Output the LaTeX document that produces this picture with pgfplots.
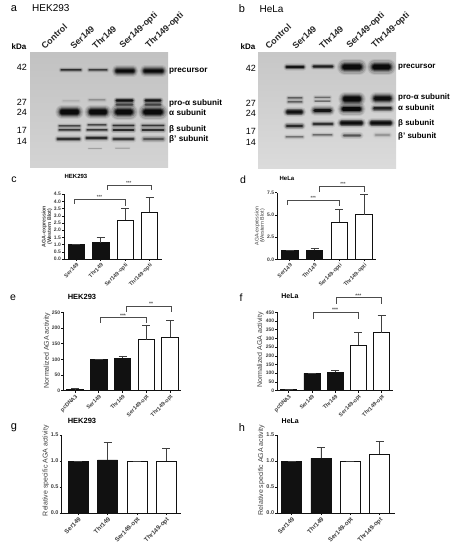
\documentclass[border=0pt]{standalone}
\usepackage{fontspec}
\setmainfont{Liberation Sans}
\usepackage{pgfplots}
\pgfplotsset{compat=1.18}
\newcommand\fs[1]{\fontsize{#1}{#1}\selectfont}
\definecolor{barc}{HTML}{111111}
\pgfplotsset{
  panel/.style={
    scale only axis, clip=false, axis lines=left,
    axis line style={-, line width=0.8pt, color=barc},
    tick align=outside, tick style={line width=0.6pt, color=barc},
    major tick length=2pt, xtick pos=bottom, ytick pos=left,
    ymin=0, minor tick num=0,
    /pgf/number format/assume math mode=true,
    tick label style={font=\bfseries\fs{5}, color=black!75, inner sep=1pt},
    xticklabel style={rotate=45, anchor=north east, font=\bfseries\fs{5.5}},
    ylabel style={font=\fs{7}, color=black!75, anchor=center, align=center},
    title style={font=\bfseries\fs{7}, anchor=center, at={(axis description cs:0,1)}},
    y tick label style={/pgf/number format/fixed},
  },
  bigticks/.style={xticklabel style={font=\bfseries\fs{6.2}}, yticklabel style={font=\bfseries\fs{5.5}}},
  ylab/.style 2 args={ylabel style={at={(axis description cs:0,0.5)}, xshift=#2pt, yshift=-#1pt}},
  tpos/.style 2 args={title style={xshift=#1pt, yshift=#2pt}},
  prec1/.style={y tick label style={/pgf/number format/fixed zerofill,/pgf/number format/precision=1}},
  errs/.style={
    error bars/y dir=plus, error bars/y explicit,
    error bars/error bar style={line width=0.7pt,color=black!75},
    error bars/error mark options={rotate=90, mark size=4pt, line width=0.7pt, color=black!75}},
  blackbar/.style={ybar, bar shift=0pt, fill=barc, draw=barc, line width=0.8pt, errs},
  whitebar/.style={ybar, bar shift=0pt, fill=white, draw=barc, line width=0.8pt, errs},
  brk/.style={line width=0.5pt, color=black!70, forget plot},
}
% a band on a gel: x1, x2, y (in image pixels from top), thickness, strength
\newcommand\onelayer[2]{\pgfmathsetmacro\opX{#2*\myK}\draw[line cap=round,black,line width=#1 pt,opacity=\opX] (\myA pt,\myY pt)--(\myB pt,\myY pt);}
\newcommand\band[5]{%
  \pgfmathsetmacro\myY{550-#3}\pgfmathsetmacro\myK{#5}%
  \pgfmathsetmacro\myA{#1+0.6*#4}\pgfmathsetmacro\myB{#2-0.6*#4}%
  \pgfmathsetmacro\lwA{1.7*#4+2}\pgfmathsetmacro\lwB{1.5*#4+1.3}\pgfmathsetmacro\lwC{1.25*#4+0.7}%
  \pgfmathsetmacro\lwD{1.0*#4+0.2}\pgfmathsetmacro\lwE{0.75*#4}\pgfmathsetmacro\lwF{0.5*#4}%
  \onelayer{\lwA}{0.08}\onelayer{\lwB}{0.13}\onelayer{\lwC}{0.2}\onelayer{\lwD}{0.35}\onelayer{\lwE}{0.55}\onelayer{\lwF}{0.7}%
}
\newcommand\txt[4][]{\pgfmathsetmacro\myY{550-#3}\node[inner sep=0pt,#1] at (#2pt,\myY pt) {#4};}
\begin{document}
\begin{tikzpicture}[x=1pt,y=1pt]
\useasboundingbox (0,0) rectangle (456pt,550pt);
\fill[white] (0,0) rectangle (456pt,550pt);

% ---------- blot a
\shade[top color=black!24, bottom color=black!17] (30pt,497pt) rectangle (168pt,382pt);
\band{60}{82}{70}{2}{0.6}\band{88}{108}{70}{2}{0.5}
\band{114}{136}{71}{5.5}{1}\band{142}{165}{71}{5.5}{1}
\band{88}{106}{100}{2}{0.15}\band{62}{80}{101}{2}{0.06}
\band{115}{134}{100.5}{3}{0.9}\band{115}{134}{104.5}{3}{0.45}
\band{144}{162}{100.5}{3}{0.85}\band{144}{162}{104.5}{3}{0.45}
\band{58}{81}{112}{7}{1}\band{87}{109}{112}{7}{1}\band{113}{135}{112}{8}{1}\band{141}{165}{112}{8}{1}
\band{58}{81}{126}{2}{0.45}\band{58}{81}{130}{2}{0.55}
\band{87}{107}{125}{2}{0.45}\band{86}{108}{130}{2}{0.55}
\band{112}{135}{125.5}{2.5}{0.6}\band{112}{135}{130}{2.5}{0.65}
\band{141}{165}{125.5}{2.5}{0.55}\band{141}{165}{130}{2.5}{0.6}
\band{56}{81}{139}{3}{0.6}\band{85}{108}{138}{3}{0.65}\band{112}{135}{139}{3}{0.55}\band{142}{165}{139}{3.5}{0.4}
\band{88}{102}{148.5}{1}{0.12}\band{115}{130}{148}{1}{0.1}

% ---------- blot b
\shade[top color=black!22, bottom color=black!14] (258pt,497pt) rectangle (396pt,381pt);
\band{285}{305}{67}{3}{0.85}\band{312}{334}{66.5}{3}{0.75}
\band{340}{364}{67}{8}{1}\band{370}{393}{67}{8}{1}
\band{287}{303}{98}{2}{0.35}\band{287}{303}{102}{2}{0.35}\band{314}{331}{97.5}{1.8}{0.3}\band{314}{331}{101}{1.8}{0.28}
\band{341}{363}{99}{7}{1}\band{372}{393}{98.5}{6}{0.95}
\band{285}{304}{112}{5}{0.9}\band{312}{333}{110.5}{5}{0.85}\band{340}{363}{109}{6.5}{1}\band{372}{393}{108.5}{4}{0.7}
\band{285}{304}{126}{3.5}{0.65}\band{312}{334}{124}{3}{0.6}\band{339}{364}{123}{5}{0.95}\band{369}{393}{123}{5}{0.95}
\band{285}{304}{137}{2}{0.28}\band{312}{333}{135}{2}{0.3}\band{342}{362}{135.5}{3.5}{0.4}\band{374}{391}{135}{3}{0.15}

% ---------- blot text
\txt{14}{9}{\fs{11}a}\txt[anchor=west]{32}{8.5}{\fs{10}HEK293}
\txt{242}{9}{\fs{11}b}\txt{271.5}{9}{\fs{10}HeLa}
\txt{19}{46.7}{\bfseries\fs{8}kDa}\txt{248}{47}{\bfseries\fs{8}kDa}
\foreach \a/\b in {67.7/42,102/27,112/24,130/17,141/14}{\txt{22}{\a}{\fs{9}\b}}
\foreach \a/\b in {68/42,103/27,113/24,131/17,142/14}{\txt{251}{\a}{\fs{9}\b}}
\foreach \a/\b in {45/Control,74/Ser149,96/Thr149,124/Ser149-opti,150/Thr149-opti}{%
  \node[rotate=43,anchor=south west,inner sep=0pt,font=\bfseries\fs{8.8},color=black!85] at (\a pt,500pt) {\b};}
\foreach \a/\b in {269/Control,296/Ser149,323/Thr149,351/Ser149-opti,376/Thr149-opti}{%
  \node[rotate=43,anchor=south west,inner sep=0pt,font=\bfseries\fs{8.8},color=black!85] at (\a pt,500pt) {\b};}
\foreach \a/\b in {71/precursor,103/pro-α subunit,113/α subunit,129/β subunit,139/β' subunit}{%
  \txt[anchor=west]{169}{\a}{\bfseries\fs{8.2}\b}}
\foreach \a/\b in {67/precursor,97/pro-α subunit,108/α subunit,123/β subunit,136/β' subunit}{%
  \txt[anchor=west]{398}{\a}{\bfseries\fs{8}\b}}

% panel letters
\txt{14}{180}{\fs{10.5}c}\txt{243}{180}{\fs{10.5}d}
\txt{13}{298}{\fs{10.5}e}\txt{241}{298}{\fs{10.5}f}
\txt{14}{428}{\fs{11}g}\txt{242}{428}{\fs{11}h}

% ---------- c
\begin{axis}[panel, at={(64pt,291pt)}, anchor=south west, width=98pt, height=64.7pt,
  xmin=-0.504, xmax=3.51, ymax=4.5, ytick={0,0.5,...,4.5}, prec1,
  xtick={0,1,2,3}, xticklabels={Ser149,Thr149,Ser149-opti,Thr149-opti},
  ylabel={AGA-expression\\(Western Blot)}, ylab={-17}{0},
  ylabel style={font=\bfseries\fs{5.3}},
  title={HEK293}, tpos={12}{11.6}, title style={font=\bfseries\fs{6}}]
\addplot[blackbar, bar width=16.4pt] coordinates {(0,1.0) +- (0,0) (1,1.13) +- (0,0.37)};
\addplot[whitebar, bar width=16.4pt] coordinates {(2,2.7) +- (0,0.8) (3,3.25) +- (0,1.05)};
\addplot[brk] coordinates {(-0.09,3.83)(-0.09,4.15)(2.0,4.15)(2.0,3.7)};
\addplot[brk] coordinates {(1.25,4.8)(1.25,5.13)(3.05,5.13)(3.05,4.8)};
\node[font=\bfseries\fs{4.5},color=black!70] at (axis cs:0.95,4.33) {***};
\node[font=\bfseries\fs{4.5},color=black!70] at (axis cs:2.15,5.31) {***};
\end{axis}

% ---------- d
\begin{axis}[panel, at={(277.3pt,290.7pt)}, anchor=south west, width=99pt, height=66.6pt,
  xmin=-0.5, xmax=3.49, ymax=7.5, ytick={0,2.5,5,7.5}, prec1,
  xtick={0,1,2,3}, xticklabels={Ser149,Thr149,Ser149-opti,Thr149-opti},
  ylabel={AGA-expression\\(Western Blot)}, ylab={-17.5}{0},
  ylabel style={font=\fs{5.3}},
  title={HeLa}, tpos={9.7}{8.7}, title style={font=\bfseries\fs{6}}]
\addplot[blackbar, bar width=16.6pt] coordinates {(0,1.0) +- (0,0) (1,1.0) +- (0,0.25)};
\addplot[whitebar, bar width=16.6pt] coordinates {(2,4.2) +- (0,1.45) (3,5.0) +- (0,2.3)};
\addplot[brk] coordinates {(-0.1,6.11)(-0.1,6.6)(1.99,6.6)(1.99,6.0)};
\addplot[brk] coordinates {(1.21,7.58)(1.21,8.17)(3.02,8.17)(3.02,7.58)};
\node[font=\bfseries\fs{4.5},color=black!70] at (axis cs:0.95,6.9) {***};
\node[font=\bfseries\fs{4.5},color=black!70] at (axis cs:2.15,8.45) {***};
\end{axis}

% ---------- e
\begin{axis}[panel, at={(63.3pt,159.3pt)}, anchor=south west, width=117.7pt, height=78.4pt,
  xmin=-0.49, xmax=4.46, ymax=250, ytick={0,50,100,150,200,250},
  xtick={0,1,2,3,4}, xticklabels={pcDNA3,Ser149,Thr149,Ser149-opt,Thr149-opt},
  ylabel={Normalized AGA activity}, ylab={-16.3}{1},
  title={HEK293}, tpos={18.7}{9.3}, title style={font=\bfseries\fs{7.5}}]
\addplot[blackbar, bar width=16.4pt] coordinates {(0,4) +- (0,2) (1,100) +- (0,0) (2,104) +- (0,5)};
\addplot[whitebar, bar width=16.4pt] coordinates {(3,163) +- (0,45) (4,170) +- (0,53)};
\addplot[brk] coordinates {(1.05,216)(1.05,234)(2.99,234)(2.99,216)};
\addplot[brk] coordinates {(2.15,251)(2.15,270)(4.07,270)(4.07,251)};
\node[font=\bfseries\fs{5},color=black!70] at (axis cs:2.02,240) {***};
\node[font=\bfseries\fs{5},color=black!70] at (axis cs:3.2,277) {**};
\end{axis}

% ---------- f
\begin{axis}[panel, at={(277.3pt,159.3pt)}, anchor=south west, width=115.7pt, height=78.4pt,
  xmin=-0.49, xmax=4.49, ymax=450, ytick={0,50,...,450},
  xtick={0,1,2,3,4}, xticklabels={pcDNA3,Ser149,Thr149,Ser149-opt,Thr149-opt},
  ylabel={Normalized AGA activity}, ylab={-17}{1.5},
  title={HeLa}, tpos={12.7}{10}]
\addplot[blackbar, bar width=16pt] coordinates {(0,5) +- (0,1) (1,100) +- (0,0) (2,105) +- (0,10)};
\addplot[whitebar, bar width=16pt] coordinates {(3,260) +- (0,75) (4,333) +- (0,99)};
\addplot[brk] coordinates {(1.06,412)(1.06,453)(3.01,453)(3.01,412)};
\addplot[brk] coordinates {(2.03,498)(2.03,534)(3.98,534)(3.98,498)};
\node[font=\bfseries\fs{5},color=black!70] at (axis cs:2.0,466) {***};
\node[font=\bfseries\fs{5},color=black!70] at (axis cs:3.0,545) {***};
\end{axis}

% ---------- g
\begin{axis}[panel, bigticks, at={(61.7pt,37pt)}, anchor=south west, width=119.3pt, height=78pt,
  xmin=-0.567, xmax=3.505, ymax=1.5, ytick={0,0.5,1,1.5}, prec1,
  xtick={0,1,2,3}, xticklabels={Ser149,Thr149,Ser149-opt,Thr149-opt},
  ylabel={Relative specific AGA activity}, ylab={-16}{3.3},
  title={HEK293}, tpos={20.3}{8.3}, title style={font=\bfseries\fs{7.5}}]
\addplot[blackbar, bar width=20pt] coordinates {(0,1.0) +- (0,0) (1,1.02) +- (0,0.33)};
\addplot[whitebar, bar width=20pt] coordinates {(2,1.0) +- (0,0) (3,1.0) +- (0,0.24)};
\end{axis}

% ---------- h
\begin{axis}[panel, bigticks, at={(277.3pt,37pt)}, anchor=south west, width=117.4pt, height=78pt,
  xmin=-0.49, xmax=3.515, ymax=1.5, ytick={0,0.5,1,1.5}, prec1,
  xtick={0,1,2,3}, xticklabels={Ser149,Thr149,Ser149-opt,Thr149-opt},
  ylabel={Relative specific AGA activity}, ylab={-16}{4},
  title={HeLa}, tpos={13}{7.7}]
\addplot[blackbar, bar width=20pt] coordinates {(0,1.0) +- (0,0) (1,1.05) +- (0,0.22)};
\addplot[whitebar, bar width=20pt] coordinates {(2,1.0) +- (0,0) (3,1.13) +- (0,0.24)};
\end{axis}
\end{tikzpicture}
\end{document}
